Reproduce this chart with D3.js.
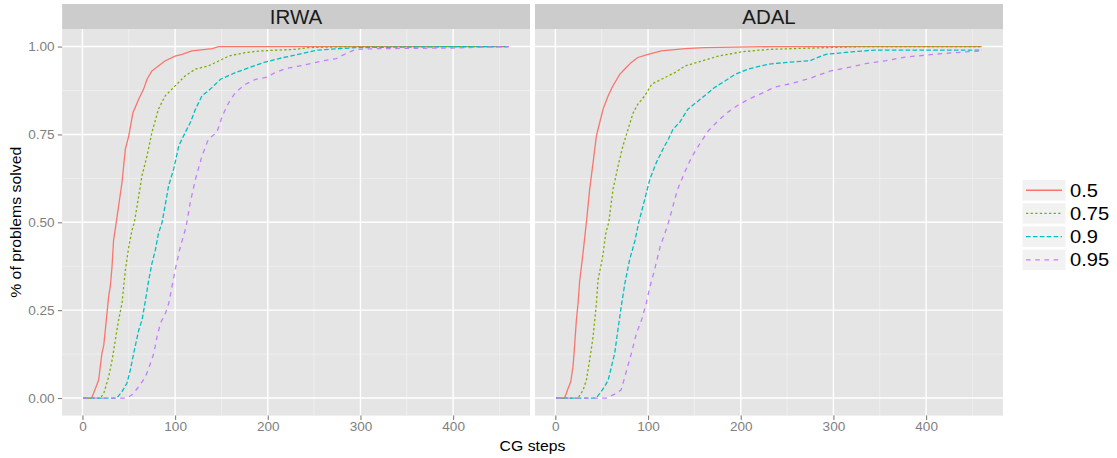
<!DOCTYPE html>
<html><head><meta charset="utf-8">
<script src="https://cdn.jsdelivr.net/npm/d3@7"></script>
<style>body{margin:0;background:#fff}svg{display:block}</style>
</head><body><svg id="c" width="1117" height="458"></svg>
<script>
// ---------- data ----------
const panels = ["IRWA", "ADAL"];
const levels = ["0.5", "0.75", "0.9", "0.95"];
const xTicks = [0, 100, 200, 300, 400];
const yTicks = [0, 0.25, 0.5, 0.75, 1];
const yTickLabels = ["0.00", "0.25", "0.50", "0.75", "1.00"];
const xTitle = "CG steps";
const yTitle = "% of problems solved";

// IRWA: [CG steps, fraction solved]
const irwa_05 = [[1,0],[10,0],[14,0.027],[17.5,0.051],[21,0.127],[23,0.15],[25.7,0.22],[28.3,0.29],[30,0.316],[31.9,0.373],[33.6,0.449],[36.5,0.5],[42.7,0.614],[46.3,0.708],[50,0.746],[54.5,0.812],[60.7,0.85],[66,0.879],[69.7,0.907],[75,0.931],[82,0.945],[89,0.959],[100,0.973],[107.5,0.978],[118,0.988],[140,0.994],[147,1],[460,1]];
const irwa_075 = [[1,0],[19.3,0],[23,0.013],[28.3,0.06],[32,0.108],[35.5,0.165],[39,0.222],[42.7,0.27],[46.3,0.364],[50,0.43],[53.4,0.477],[56,0.5],[59,0.547],[64.3,0.633],[69.7,0.689],[75,0.756],[82,0.822],[89.4,0.86],[98.5,0.884],[111,0.917],[122,0.936],[136,0.945],[147,0.959],[158,0.973],[176,0.983],[194,0.988],[230,0.992],[243,0.997],[285,1],[460,1]];
const irwa_09 = [[1,0],[37,0],[42.7,0.018],[48,0.042],[51.7,0.08],[55.3,0.127],[60.7,0.193],[64.3,0.222],[68,0.278],[71.5,0.335],[75,0.383],[78.6,0.42],[82,0.468],[86,0.5],[93,0.604],[98.5,0.652],[104,0.718],[111,0.756],[116.4,0.784],[122,0.822],[129,0.86],[138,0.879],[149,0.907],[165,0.926],[180,0.94],[196,0.955],[212,0.966],[233,0.978],[253,0.99],[295,0.997],[400,1],[460,1]];
const irwa_095 = [[1,0],[48,0],[53.5,0.009],[60.7,0.032],[68,0.06],[73.3,0.098],[77,0.127],[80.5,0.174],[84,0.212],[89.4,0.24],[93,0.269],[96.6,0.316],[100,0.364],[105.6,0.43],[111.8,0.487],[116.4,0.557],[122,0.623],[129,0.689],[136,0.737],[145,0.756],[151,0.803],[158,0.841],[165,0.869],[176,0.893],[187,0.907],[198,0.912],[208,0.926],[219,0.937],[238,0.947],[259,0.959],[274,0.966],[285,0.981],[295,0.992],[316,0.994],[399,0.996],[460,1]];

// ADAL
const adal_05 = [[1,0],[10,0],[13.7,0.027],[16.6,0.046],[19,0.089],[20.2,0.127],[22.7,0.222],[24.5,0.269],[26.3,0.335],[28.1,0.373],[30.6,0.43],[33.5,0.5],[37.1,0.595],[40.7,0.67],[44.3,0.746],[47.9,0.784],[51.5,0.822],[57,0.86],[62,0.888],[69.5,0.921],[75,0.936],[82,0.955],[89,0.969],[100,0.978],[114.5,0.988],[140,0.994],[161,0.997],[235,1],[460,1]];
const adal_075 = [[1,0],[24.5,0],[30,0.023],[33.5,0.051],[37,0.108],[40.7,0.174],[42.5,0.222],[44.3,0.269],[46,0.335],[49.7,0.383],[51.5,0.411],[54.4,0.468],[57.6,0.5],[62.3,0.595],[67.7,0.661],[73,0.718],[78.5,0.765],[84,0.812],[89,0.836],[96.5,0.86],[104,0.893],[114.5,0.907],[129,0.926],[140,0.945],[158,0.959],[176,0.973],[201,0.985],[230,0.992],[292,0.997],[330,1],[460,1]];
const adal_09 = [[1,0],[44,0],[48,0.013],[53,0.032],[57,0.051],[60.5,0.089],[64,0.127],[68,0.203],[71,0.259],[75,0.326],[80,0.392],[86,0.449],[90,0.5],[96.5,0.566],[102,0.623],[109,0.67],[116,0.708],[122,0.737],[127,0.765],[134,0.784],[143,0.822],[152,0.841],[161,0.86],[172,0.884],[183,0.902],[194,0.921],[208,0.936],[230,0.95],[250,0.955],[275,0.96],[282,0.968],[292,0.978],[320,0.985],[344,0.99],[460,0.99]];
const adal_095 = [[1,0],[55,0],[64,0.011],[71,0.023],[77,0.08],[82,0.127],[87.5,0.184],[93,0.222],[98,0.269],[102,0.316],[107,0.364],[113,0.43],[121,0.49],[127,0.547],[132,0.595],[140,0.645],[147,0.685],[155,0.72],[165,0.76],[176,0.79],[187,0.815],[198,0.835],[210,0.852],[222,0.866],[237,0.885],[255,0.895],[275,0.91],[296,0.93],[315,0.94],[336,0.952],[357,0.96],[377,0.97],[417,0.98],[460,0.988]];

const seriesByPanel = {
  IRWA: [irwa_05, irwa_075, irwa_09, irwa_095],
  ADAL: [adal_05, adal_075, adal_09, adal_095]
};

// ---------- style ----------
const colors = ["#F8766D", "#7CAE00", "#00BFC4", "#C77CFF"];
const lw = 1.3, du = 1.15;
const dashes = [null, [2*du,2*du], [4*du,2*du], [4*du,4*du]];
const FONT = "'Liberation Sans', Arial, Helvetica, sans-serif";
const SX = 1.13; // horizontal widening of glyphs seen in the reference

const W = 1117, H = 458;
const panelBoxes = [{x0: 62.1, x1: 530}, {x0: 535, x1: 1003}];
const stripTop = 4, panelTop = 29, panelBottom = 415.6;

const svg = d3.select("#c");
svg.append("rect").attr("width", W).attr("height", H).attr("fill", "#fff");

// text helper: positioned group, optional rotation, widened glyphs
function label(parent, x, y, txt, opts) {
  const o = Object.assign({size: 12, anchor: "start", fill: "#000", rot: 0, sx: SX, dy: null}, opts || {});
  const g = parent.append("g").attr("transform", `translate(${x},${y}) rotate(${o.rot}) scale(${o.sx},1)`);
  const t = g.append("text").attr("x", 0).attr("y", 0).attr("font-family", FONT)
    .attr("font-size", o.size).attr("text-anchor", o.anchor).attr("fill", o.fill).text(txt);
  if (o.dy) t.attr("dy", o.dy);
  return t;
}

// scale domains with ggplot 5% expansion
const allX = Object.values(seriesByPanel).flat().flat().map(d => d[0]);
const xmin = d3.min(allX), xmax = d3.max(allX);
const xpad = (xmax - xmin) * 0.05;
const ypad = 0.05;
const y = d3.scaleLinear().domain([0 - ypad, 1 + ypad]).range([panelBottom, panelTop]);
const yMinor = [0.125, 0.375, 0.625, 0.875];
const xMinor = [50, 150, 250, 350, 450];

panels.forEach((name, pi) => {
  const b = panelBoxes[pi];
  const x = d3.scaleLinear().domain([xmin - xpad, xmax + xpad]).range([b.x0, b.x1]);
  const g = svg.append("g");
  // strip
  g.append("rect").attr("x", b.x0).attr("y", stripTop).attr("width", b.x1 - b.x0)
    .attr("height", panelTop - stripTop).attr("fill", "#CCCCCC");
  label(g, (b.x0 + b.x1) / 2, (stripTop + panelTop) / 2, name,
    {size: 20.5, anchor: "middle", fill: "#1a1a1a", sx: 1, dy: "0.36em"});
  // background
  g.append("rect").attr("x", b.x0).attr("y", panelTop).attr("width", b.x1 - b.x0)
    .attr("height", panelBottom - panelTop).attr("fill", "#E5E5E5");
  // minor grid
  g.selectAll(".mgx").data(xMinor).enter().append("line")
    .attr("x1", d => x(d)).attr("x2", d => x(d)).attr("y1", panelTop).attr("y2", panelBottom)
    .attr("stroke", "#F2F2F2").attr("stroke-width", 0.7);
  g.selectAll(".mgy").data(yMinor).enter().append("line")
    .attr("y1", d => y(d)).attr("y2", d => y(d)).attr("x1", b.x0).attr("x2", b.x1)
    .attr("stroke", "#F2F2F2").attr("stroke-width", 0.7);
  // major grid
  g.selectAll(".gx").data(xTicks).enter().append("line")
    .attr("x1", d => x(d)).attr("x2", d => x(d)).attr("y1", panelTop).attr("y2", panelBottom)
    .attr("stroke", "#FFFFFF").attr("stroke-width", 1.4);
  g.selectAll(".gy").data(yTicks).enter().append("line")
    .attr("y1", d => y(d)).attr("y2", d => y(d)).attr("x1", b.x0).attr("x2", b.x1)
    .attr("stroke", "#FFFFFF").attr("stroke-width", 1.4);
  // lines
  const line = d3.line().x(d => x(d[0])).y(d => y(d[1]));
  seriesByPanel[name].forEach((s, i) => {
    g.append("path").datum(s).attr("d", line).attr("fill", "none")
      .attr("stroke", colors[i]).attr("stroke-width", lw)
      .attr("stroke-dasharray", dashes[i] ? dashes[i].join(",") : null);
  });
  // x axis (ticks from d3 axis, labels widened)
  const xAxis = d3.axisBottom(x).tickValues(xTicks).tickSize(4.3).tickFormat("");
  const ax = svg.append("g").attr("transform", `translate(0,${panelBottom})`).call(xAxis);
  ax.select(".domain").remove();
  ax.selectAll(".tick line").attr("stroke", "#7F7F7F").attr("stroke-width", 1.1);
  ax.selectAll(".tick text").remove();
  ax.selectAll(".tick").each(function(d) {
    label(d3.select(this), 0, 15.1, d3.format("d")(d), {size: 12, anchor: "middle", fill: "#7F7F7F"});
  });
});

// y axis (left panel only)
const yAxis = d3.axisLeft(y).tickValues(yTicks).tickSize(4.3).tickFormat("");
const ay = svg.append("g").attr("transform", `translate(${panelBoxes[0].x0},0)`).call(yAxis);
ay.select(".domain").remove();
ay.selectAll(".tick line").attr("stroke", "#7F7F7F").attr("stroke-width", 1.1);
ay.selectAll(".tick text").remove();
ay.selectAll(".tick").each(function(d, i) {
  label(d3.select(this), -7.5, 0, yTickLabels[i], {size: 12, anchor: "end", fill: "#7F7F7F", dy: "0.36em"});
});

// axis titles
label(svg, (panelBoxes[0].x0 + panelBoxes[1].x1) / 2, 451, xTitle, {size: 14, anchor: "middle"});
label(svg, 20.5, (panelTop + panelBottom) / 2, yTitle, {size: 14, anchor: "middle", rot: -90});

// legend
const lg = svg.append("g");
const keyX = 1022, keyW = 44, keyH = 21.5, keyStep = 23.2, keyTop = 179.5;
levels.forEach((lv, i) => {
  const ky = keyTop + i * keyStep;
  lg.append("rect").attr("x", keyX).attr("y", ky).attr("width", keyW).attr("height", keyH)
    .attr("fill", "#F2F2F2").attr("stroke", "#fff").attr("stroke-width", 1);
  lg.append("line").attr("x1", keyX + 4).attr("x2", keyX + keyW - 4)
    .attr("y1", ky + keyH / 2).attr("y2", ky + keyH / 2)
    .attr("stroke", colors[i]).attr("stroke-width", lw)
    .attr("stroke-dasharray", dashes[i] ? dashes[i].join(",") : null);
  label(lg, keyX + keyW + 4, ky + keyH / 2, lv, {size: 17.5, dy: "0.36em", sx: 1.15});
});
</script></body></html>
